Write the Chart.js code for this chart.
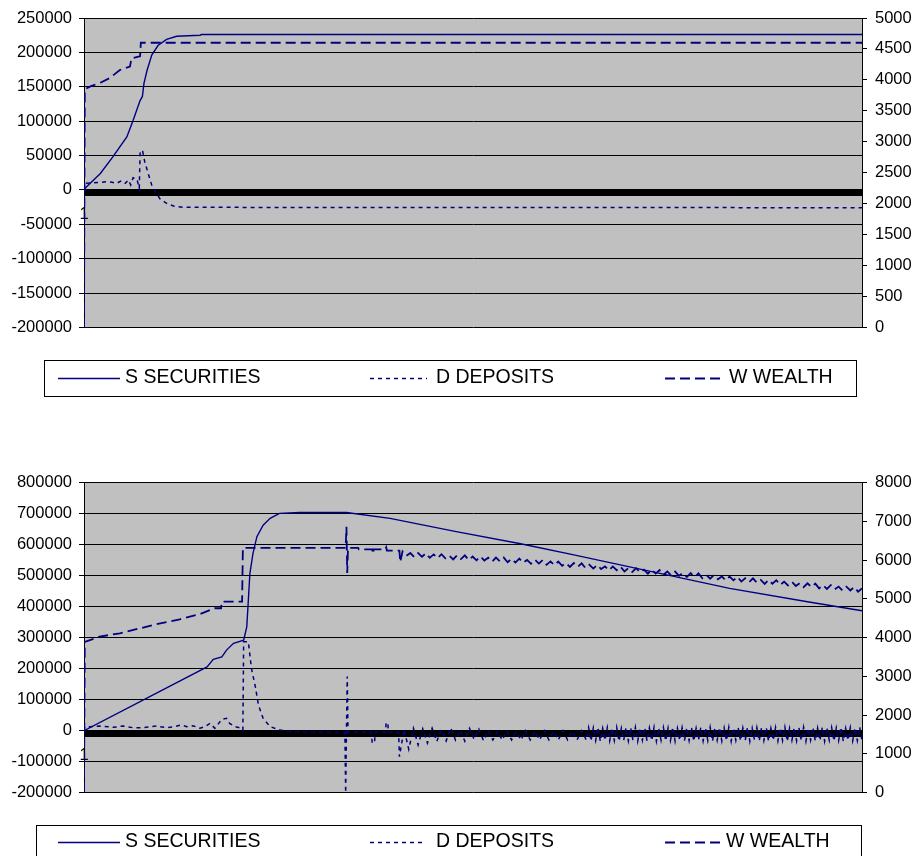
<!DOCTYPE html>
<html>
<head>
<meta charset="utf-8">
<script src="https://cdn.jsdelivr.net/npm/chart.js@4"></script>
<style>
    body { margin: 0; background: #fff; }
    canvas { position: absolute; left: 0; }
    #chart1 { top: 0; }
    #chart2 { top: 462px; }
</style>
</head>
<body>
<canvas id="chart1" width="914" height="400"></canvas>
<canvas id="chart2" width="914" height="394"></canvas>
<script>
// category axis: run steps 1..1000 (only "1" is labelled)
const stepCount = 1000;
const categories = Array.from({length: stepCount}, (_, i) => i + 1);

// ---- chart 1 ----
const c1SSteps = [1, 2, 22, 38, 56, 64, 73, 76, 78, 82, 88, 96, 107, 120, 150, 152, 1000];
const c1SVals = [0, 2000, 24000, 48000, 77000, 101000, 130000, 136000, 155000, 174000, 196000, 210000, 219000, 223500, 225000, 226000, 226000];

const c1DSteps = [1, 2, 22, 30, 37, 43, 49, 54, 58, 61, 64, 69, 72, 73, 76, 79, 84, 88, 94, 99, 107, 116, 129, 1000];
const c1DVals = [0, 9700, 11100, 12000, 11100, 9700, 13400, 9700, 14500, 7200, 17800, 15500, 2400, 53300, 58000, 41000, 21700, 7200, -5000, -13600, -19400, -23400, -25300, -25800];

const c1WSteps = [1, 2, 10, 22, 34, 47, 60, 62, 71, 73, 74, 1000];
const c1WVals = [0, 3850, 3900, 3955, 4030, 4160, 4215, 4350, 4375, 4380, 4600, 4600];

// ---- chart 2 ----
const c2SSteps = [1, 159, 167, 178, 184, 193, 206, 210, 212, 214, 218, 223, 231, 240, 252, 278, 338, 394, 479, 560, 630, 730, 830, 930, 1000];
const c2SVals = [0, 206000, 230000, 238000, 260000, 282000, 292000, 335000, 420000, 507000, 572000, 626000, 663000, 685000, 701000, 704000, 704000, 685000, 642000, 604000, 567000, 513000, 459000, 416000, 387000];

const c2DSteps = [1, 2, 9, 21, 39, 51, 64, 77, 94, 107, 116, 126, 133, 141, 150, 156, 163, 169, 178, 184, 188, 195, 203, 205, 206, 212, 216, 221, 225, 231, 240, 253, 266, 300, 336, 337, 338, 339, 340, 370, 371, 374, 375, 388, 389, 391, 392, 405,
    406, 412, 418, 424, 430, 436, 442, 448, 454, 460, 466, 472, 478, 484, 490, 496, 502, 508, 514, 520,
    526, 532, 538, 544, 550, 556, 562, 568, 574, 580, 586, 592, 598, 604, 610, 616, 622, 628, 634, 640,
    646, 649, 652, 655, 658, 661, 664, 667, 670, 673, 676, 679, 682, 685, 688, 691, 694, 697, 700, 703,
    706, 709, 712, 715, 718, 721, 724, 727, 730, 733, 736, 739, 742, 745, 748, 751, 754, 757, 760, 763,
    766, 769, 772, 775, 778, 781, 784, 787, 790, 793, 796, 799, 802, 805, 808, 811, 814, 817, 820, 823,
    826, 829, 832, 835, 838, 841, 844, 847, 850, 853, 856, 859, 862, 865, 868, 871, 874, 877, 880, 883,
    886, 889, 892, 895, 898, 901, 904, 907, 910, 913, 916, 919, 922, 925, 928, 931, 934, 937, 940, 943,
    946, 949, 952, 955, 958, 961, 964, 967, 970, 973, 976, 979, 982, 985, 988, 991, 994, 997, 1000];
const c2DVals = [0, 12800, 13000, 15000, 11000, 15000, 9600, 9600, 15000, 9600, 13000, 18300, 13000, 16000, 7700, 13000, 23700, 7700, 36700, 40000, 23700, 13000, 7700, 2000, 287000, 287000, 201000, 142000, 83000, 40000, 13000, 2000, -3000, -5000, -6000, -200000, -5000, 175000, -5000, -5000, -39000, -39000, -5000, -5000, 26000, 26000, -5000, -5000,
    -84000, 5000, -60000, 8000, -46000, 6000, -40000, 8000, -35000, 4000, -33000, 9000, -30000, 2000, -34000, 8000, -28000, 5000, -32000, 0,
    -30000, -2000, -30000, 0, -30000, -2000, -30000, 0, -30000, -2000, -30000, 0, -30000, -2000, -30000, 0, -30000, -2000, -30000, 0,
    -30000, 10000, -33000, 9000, -32000, 11000, -34000, 8000, -31000, 10000, -33000, 9000, -32000, 11000, -34000, 8000, -31000, 10000, -33000, 9000,
    -32000, 11000, -34000, 8000, -31000, 10000, -33000, 9000, -32000, 11000, -34000, 8000, -31000, 10000, -33000, 9000, -32000, 11000, -34000, 8000,
    -31000, 10000, -33000, 9000, -32000, 11000, -34000, 8000, -31000, 10000, -33000, 9000, -32000, 11000, -34000, 8000, -31000, 10000, -33000, 9000,
    -32000, 11000, -34000, 8000, -31000, 10000, -33000, 9000, -32000, 11000, -34000, 8000, -31000, 10000, -33000, 9000, -32000, 11000, -34000, 8000,
    -31000, 10000, -33000, 9000, -32000, 11000, -34000, 8000, -31000, 10000, -33000, 9000, -32000, 11000, -34000, 8000, -31000, 10000, -33000, 9000,
    -32000, 11000, -34000, 8000, -31000, 10000, -33000, 9000, -32000, 11000, -34000, 8000, -31000, 10000, -33000, 9000, -32000, 11000, -33000];

const c2WSteps = [1, 2, 21, 47, 73, 99, 124, 150, 169, 177, 178, 204, 205, 337, 338, 339, 340, 353, 354, 371, 372, 373, 388, 389, 390, 406, 407,
    410, 415, 420, 425, 430, 435, 440, 445, 450, 455, 460, 465, 470, 475, 480, 485, 490, 495, 500, 505,
    510, 515, 520, 525, 530, 535, 540, 545, 550, 555, 560, 565, 570, 575, 580, 585, 590, 595, 600, 605,
    610, 615, 620, 625, 630, 635, 640, 645, 650, 655, 660, 665, 670, 675, 680, 685, 690, 695, 700, 705,
    710, 715, 720, 725, 730, 735, 740, 745, 750, 755, 760, 765, 770, 775, 780, 785, 790, 795, 800, 805,
    810, 815, 820, 825, 830, 835, 840, 845, 850, 855, 860, 865, 870, 875, 880, 885, 890, 895, 900, 905,
    910, 915, 920, 925, 930, 935, 940, 945, 950, 955, 960, 965, 970, 975, 980, 985, 990, 995, 1000];
const c2WVals = [0, 3890, 4027, 4114, 4243, 4372, 4475, 4612, 4760, 4760, 4930, 4930, 6320, 6320, 6865, 5670, 6320, 6320, 6280, 6280, 6160, 6280, 6280, 6330, 6250, 6245, 5950,
    6225, 6115, 6185, 6080, 6183, 6087, 6181, 6061, 6150, 6054, 6154, 6048, 6122, 6021, 6126, 6030, 6124, 6004, 6093, 5997,
    6097, 5991, 6065, 5964, 6069, 5973, 6067, 5947, 6036, 5940, 6040, 5934, 6008, 5908, 6012, 5913, 6005, 5881, 5968, 5869,
    5965, 5857, 5928, 5825, 5926, 5827, 5919, 5795, 5882, 5783, 5879, 5771, 5842, 5739, 5840, 5741, 5833, 5709, 5796, 5697,
    5793, 5685, 5756, 5653, 5754, 5655, 5747, 5623, 5709, 5610, 5707, 5598, 5669, 5565, 5667, 5568, 5659, 5535, 5622, 5523,
    5619, 5510, 5582, 5478, 5579, 5480, 5572, 5448, 5534, 5435, 5532, 5423, 5494, 5390, 5492, 5393, 5484, 5360, 5447, 5348,
    5444, 5335, 5407, 5303, 5404, 5305, 5397, 5273, 5359, 5260, 5357, 5248, 5319, 5215, 5317, 5218, 5309, 5185, 5272];

const seriesLabels = ['S SECURITIES', 'D DEPOSITS', 'W WEALTH'];

const navy = '#000080';
Chart.defaults.font.family = '"Liberation Sans", Arial, sans-serif';
Chart.defaults.font.size = 16.5;
Chart.defaults.color = '#000';

const points = (steps, vals) => steps.map((s, i) => ({x: s, y: vals[i]}));

const plotBackground = {
    id: 'plotBackground',
    beforeDraw(chart) {
        const a = chart.chartArea;
        chart.ctx.save();
        chart.ctx.fillStyle = '#c0c0c0';
        chart.ctx.fillRect(a.left, a.top, a.right - a.left, a.bottom - a.top);
        chart.ctx.restore();
    }
};

// boxed legend in the old spreadsheet style
const boxLegend = {
    id: 'boxLegend',
    afterDraw(chart, args, opts) {
        const ctx = chart.ctx;
        ctx.save();
        ctx.strokeStyle = '#000';
        ctx.lineWidth = 1;
        ctx.setLineDash([]);
        ctx.strokeRect(opts.box[0] + 0.5, opts.box[1] + 0.5, opts.box[2] - opts.box[0], opts.box[3] - opts.box[1]);
        ctx.font = '19.5px "Liberation Sans", Arial, sans-serif';
        ctx.textBaseline = 'middle';
        ctx.fillStyle = '#000';
        chart.data.datasets.forEach((ds, i) => {
            const it = opts.items[i];
            ctx.strokeStyle = ds.borderColor;
            ctx.lineWidth = ds.borderWidth;
            ctx.setLineDash(ds.borderDash || []);
            ctx.beginPath();
            ctx.moveTo(it[0], opts.lineY);
            ctx.lineTo(it[1], opts.lineY);
            ctx.stroke();
            ctx.setLineDash([]);
            ctx.fillText(ds.label, it[2], opts.textY);
        });
        ctx.restore();
    }
};

function makeDatasets(s, d, w) {
    return [
        {label: seriesLabels[0], data: s, yAxisID: 'y', borderColor: navy, borderWidth: 1.4, borderDash: []},
        {label: seriesLabels[1], data: d, yAxisID: 'y', borderColor: navy, borderWidth: 1.5, borderDash: [4, 4]},
        {label: seriesLabels[2], data: w, yAxisID: 'y1', borderColor: navy, borderWidth: 1.8, borderDash: [10, 5]},
    ];
}

function makeConfig(datasets, left, right, pad, legend) {
    return {
        type: 'line',
        data: {datasets: datasets},
        plugins: [plotBackground, boxLegend],
        options: {
            responsive: false,
            animation: false,
            layout: {padding: pad},
            elements: {point: {radius: 0}, line: {tension: 0, fill: false}},
            plugins: {legend: {display: false}, tooltip: {enabled: false}, boxLegend: legend},
            scales: {
                x: {
                    type: 'linear', min: 1, max: stepCount,
                    position: {y: 0},
                    afterBuildTicks: s => { s.ticks = categories.map(v => ({value: v})); },
                    grid: {drawOnChartArea: false, drawTicks: true, tickLength: 6, color: '#000'},
                    border: {color: '#000'},
                    ticks: {autoSkip: false, maxRotation: 0, minRotation: 0, sampleSize: 4, padding: 9,
                        callback: v => v === 1 ? '1' : ''}
                },
                y: {
                    position: 'left', min: left[0], max: left[1],
                    afterFit: s => { s.width = 84; },
                    grid: {color: '#000', tickLength: 5},
                    border: {color: '#000'},
                    ticks: {stepSize: left[2], padding: 7, callback: v => String(v)}
                },
                y1: {
                    position: 'right', min: right[0], max: right[1],
                    afterFit: s => { s.width = 52; },
                    grid: {drawOnChartArea: false, color: '#000', tickLength: 5},
                    border: {color: '#000'},
                    ticks: {stepSize: right[2], padding: 8, callback: v => String(v)}
                }
            }
        }
    };
}

window.onload = function () {
    new Chart(document.getElementById('chart1'), makeConfig(
        makeDatasets(points(c1SSteps, c1SVals), points(c1DSteps, c1DVals), points(c1WSteps, c1WVals)),
        [-200000, 250000, 50000], [0, 5000, 500],
        {top: 18, bottom: 72.5, left: 0, right: 0},
        {box: [44, 360, 856, 396], lineY: 378.5, textY: 377.5, items: [[58, 120, 125], [370, 427, 436], [665, 725, 729]]}
    ));

    new Chart(document.getElementById('chart2'), makeConfig(
        makeDatasets(points(c2SSteps, c2SVals), points(c2DSteps, c2DVals), points(c2WSteps, c2WVals)),
        [-200000, 800000, 100000], [0, 8000, 1000],
        {top: 20.7, bottom: 63.3, left: 0, right: 0},
        {box: [36, 363, 861, 420], lineY: 380.5, textY: 380, items: [[58, 120, 125], [370, 425, 436], [665, 722, 726]]}
    ));
};
</script>
</body>
</html>
